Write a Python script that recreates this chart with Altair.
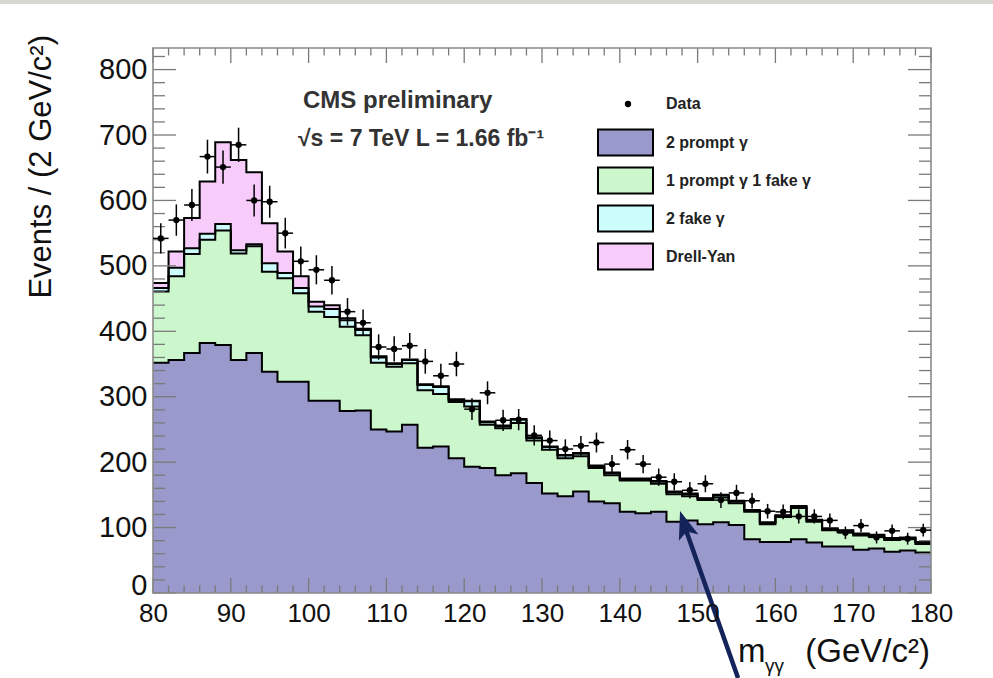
import altair as alt
import pandas as pd
import numpy as np

# ---------------- data ----------------
bin_lo = list(range(80, 180, 2))          # 50 bins of 2 GeV
bin_width = 2

two_prompt = [352, 356, 367, 382, 379, 356, 367, 338, 323, 323,
              294, 294, 278, 279, 250, 247, 257, 222, 224, 206,
              193, 191, 180, 183, 168, 152, 148, 155, 140, 137,
              124, 122, 124, 109, 111, 105, 108, 104, 82, 78,
              78, 82, 77, 71, 71, 66, 68, 63, 65, 62]
one_prompt_one_fake = [109, 128, 151, 158, 175, 163, 163, 153, 158, 135,
                       136, 128, 129, 115, 102, 99, 94, 88, 80, 86,
                       92, 66, 72, 77, 65, 67, 58, 54, 51, 43,
                       48, 50, 43, 42, 37, 37, 38, 33, 42, 27,
                       38, 48, 32, 25, 22, 22, 18, 18, 17, 13]
two_fake = [5, 13, 9, 9, 10, 5, 3, 13, 8, 8,
            8, 12, 10, 8, 8, 4, 5, 8, 11, 3,
            8, 4, 3, 5, 4, 4, 4, 4, 3, 3,
            2, 2, 3, 3, 3, 2, 3, 3, 2, 2,
            2, 2, 2, 2, 2, 2, 2, 2, 2, 2]
drell_yan = [8, 25, 46, 80, 125, 138, 110, 61, 33, 18,
             7, 6, 3, 2, 2, 1, 1, 1, 1, 1,
             1, 1, 1, 1, 1, 1, 1, 1, 1, 1,
             1, 1, 1, 1, 1, 1, 1, 1, 1, 1,
             1, 1, 1, 1, 1, 1, 1, 1, 1, 1]
data_counts = [542, 570, 593, 667, 651, 685, 600, 598, 550, 507,
               494, 478, 430, 413, 376, 373, 378, 354, 332, 350,
               281, 306, 264, 265, 241, 233, 220, 225, 230, 197,
               219, 197, 177, 170, 157, 167, 142, 153, 141, 125,
               124, 117, 117, 111, 92, 103, 85, 95, 83, 96]

comp_names = ["2 prompt γ", "1 prompt γ 1 fake γ", "2 fake γ", "Drell-Yan"]
comp_colors = ["#9999cc", "#ccf7cc", "#ccfcfc", "#f7ccfa"]
comp_values = [two_prompt, one_prompt_one_fake, two_fake, drell_yan]

x_major = list(range(80, 181, 10))
x_minor = [v for v in range(82, 180, 2) if v % 10]
y_major = list(range(0, 801, 100))
y_minor = [v for v in range(20, 833, 20) if v % 100]

# annotation arrow (data coordinates)
arrow_shaft_x = [155.2, 148.3]
arrow_shaft_y = [-130, 103]
arrow_tip_x = [147.74]
arrow_tip_y = [125.3]

cms_text = ["CMS preliminary"]
energy_text = ["√s = 7 TeV L = 1.66 fb⁻¹"]
y_title = ["Events / (2 GeV/c²)"]

# ---------------- tables ----------------
W, H = 778, 545
FONT = "Liberation Sans, Arial, Helvetica, sans-serif"
navy = "#14235a"
tick_col = "#7a7a7a"

edges = bin_lo + [180]
rows = []
cum = np.zeros(len(bin_lo))
for k, (name, vals) in enumerate(zip(comp_names, comp_values)):
    v = np.array(vals, dtype=float)
    lo = cum.copy()
    hi = cum + v
    lo_ext = list(lo) + [lo[-1]]
    hi_ext = list(hi) + [hi[-1]]
    for e, a, b in zip(edges, lo_ext, hi_ext):
        rows.append({"edge": e, "lo": a, "hi": b, "comp": name, "k": k})
    cum = hi
stack_df = pd.DataFrame(rows)

d = np.array(data_counts, dtype=float)
data_df = pd.DataFrame({
    "lo_edge": bin_lo,
    "hi_edge": [b + bin_width for b in bin_lo],
    "ctr": [b + bin_width / 2 for b in bin_lo],
    "val": d,
    "elo": d - np.sqrt(d),
    "ehi": d + np.sqrt(d),
    "lab": ["Data"] * len(bin_lo),
})

xs = alt.Scale(domain=[80, 180], nice=False, zero=False)
ys = alt.Scale(domain=[0, 833], nice=False, zero=False)

x_axis = alt.Axis(values=x_major, ticks=False, domain=False, grid=False,
                  labelFont=FONT, labelFontSize=26, labelColor="#111",
                  labelPadding=7, labelFlush=False, labelOverlap=False,
                  title="", zindex=1)
y_axis = alt.Axis(values=y_major, ticks=False, domain=False, grid=False,
                  labelFont=FONT, labelFontSize=29, labelColor="#111",
                  labelPadding=6, labelFlush=False, labelOverlap=False,
                  labelOffset={"condition": {"test": "datum.value === 0", "value": -8},
                               "value": 0},
                  title="", zindex=1)


def X(field):
    return alt.X(field, scale=xs, axis=x_axis, title="")


def Y(field, **kw):
    return alt.Y(field, scale=ys, axis=y_axis, title="", **kw)


# ---------------- layers ----------------
areas = alt.Chart(stack_df).mark_area(interpolate="step-after", opacity=1).encode(
    x=X("edge:Q"),
    y=Y("hi:Q", stack=False),
    y2="lo:Q",
    color=alt.Color("comp:N",
                    scale=alt.Scale(domain=comp_names, range=comp_colors),
                    legend=alt.Legend(title=None, orient="none", legendX=452, legendY=74,
                                      symbolType="M-1.42,-0.67H1.42V0.67H-1.42Z",
                                      symbolSize=1500, symbolStrokeColor="black",
                                      symbolStrokeWidth=2, symbolOpacity=1,
                                      labelFont=FONT, labelFontSize=16,
                                      labelFontWeight="bold", labelColor="#222",
                                      labelOffset=20, padding=0, rowPadding=0)),
    order=alt.Order("k:Q"),
)

outlines = alt.Chart(stack_df).mark_line(interpolate="step-after", color="black",
                                         strokeWidth=2).encode(
    x=X("edge:Q"),
    y=Y("hi:Q"),
    detail="comp:N",
)


def xticks(vals, y0, y1):
    return alt.Chart(pd.DataFrame({"tx": vals})).mark_rule(
        color=tick_col, strokeWidth=1.3).encode(
        x=X("tx:Q"), y=alt.value(y0), y2=alt.value(y1))


def yticks(vals, x0, x1):
    return alt.Chart(pd.DataFrame({"ty": vals})).mark_rule(
        color=tick_col, strokeWidth=1.3).encode(
        y=Y("ty:Q"), x=alt.value(x0), x2=alt.value(x1))


tick_layers = [
    xticks(x_major, H, H - 15), xticks(x_minor, H, H - 7.5),
    xticks(x_major, 0, 15), xticks(x_minor, 0, 7.5),
    yticks(y_major, 0, 23), yticks(y_minor, 0, 12),
    yticks(y_major, W, W - 23), yticks(y_minor, W, W - 12),
]

frame = alt.Chart(pd.DataFrame({"f": [0]})).mark_rect(
    fillOpacity=0, stroke="#8a8a8a", strokeWidth=1.6).encode(
    x=alt.value(0), x2=alt.value(W), y=alt.value(0), y2=alt.value(H))

top_bar = alt.Chart(pd.DataFrame({"f": [0]})).mark_rect(color="#d8d8d0").encode(
    x=alt.value(-153), x2=alt.value(W + 62), y=alt.value(-48), y2=alt.value(-44))

hbars = alt.Chart(data_df).mark_rule(color="black", strokeWidth=1.5).encode(
    x=X("lo_edge:Q"), x2="hi_edge:Q", y=Y("val:Q"))
vbars = alt.Chart(data_df).mark_rule(color="black", strokeWidth=1.5).encode(
    x=X("ctr:Q"), y=Y("elo:Q"), y2="ehi:Q")
points = alt.Chart(data_df).mark_point(filled=True, size=40, color="black", opacity=1).encode(
    x=X("ctr:Q"),
    y=Y("val:Q"),
    shape=alt.Shape("lab:N", scale=alt.Scale(domain=["Data"], range=["circle"]),
                    legend=alt.Legend(title=None, orient="none", legendX=467, legendY=48,
                                      symbolFillColor="black", symbolStrokeColor="black",
                                      symbolSize=40, labelFont=FONT, labelFontSize=16,
                                      labelFontWeight="bold", labelColor="#222",
                                      labelOffset=30, padding=0)),
)


def txt(s, x, y, size, weight="normal", align="left", color="#111", angle=0,
        baseline="alphabetic"):
    return alt.Chart(pd.DataFrame({"t": [s]})).mark_text(
        font=FONT, fontSize=size, fontWeight=weight, align=align,
        baseline=baseline, color=color, angle=angle).encode(
        x=alt.value(x), y=alt.value(y), text="t:N")


texts = [
    txt(cms_text[0], 150, 60, 24, "bold", color="#333"),
    txt(energy_text[0], 145, 98, 23, "bold", color="#333"),
    txt("m", 585, 614, 33),
    txt("γγ", 612, 624, 19),
    txt("(GeV/c²)", 777, 614, 33, align="right"),
    txt(y_title[0], -111, -13, 31, align="right", angle=270, baseline="middle"),
]

arrow_df = pd.DataFrame({"ax": arrow_shaft_x, "ay": arrow_shaft_y, "o": [0, 1]})
shaft = alt.Chart(arrow_df).mark_line(color=navy, strokeWidth=4.5).encode(
    x=X("ax:Q"), y=Y("ay:Q"), order="o:Q")
head = alt.Chart(pd.DataFrame({"ax": arrow_tip_x, "ay": arrow_tip_y})).mark_point(
    shape="M0,0L0.55,1.5L0,1.15L-0.55,1.5Z", filled=True, color=navy,
    size=1398, angle=342, opacity=1).encode(x=X("ax:Q"), y=Y("ay:Q"))

chart = alt.layer(
    areas, outlines, *tick_layers, frame, top_bar, hbars, vbars, points, *texts, shaft, head
).properties(
    width=W, height=H,
    padding={"left": 153, "top": 48, "right": 62, "bottom": 85},
    autosize=alt.AutoSizeParams(type="none"),
    background="white",
).configure_view(stroke="transparent")

chart.save("out.html", embed_options={"renderer": "svg", "actions": False})
